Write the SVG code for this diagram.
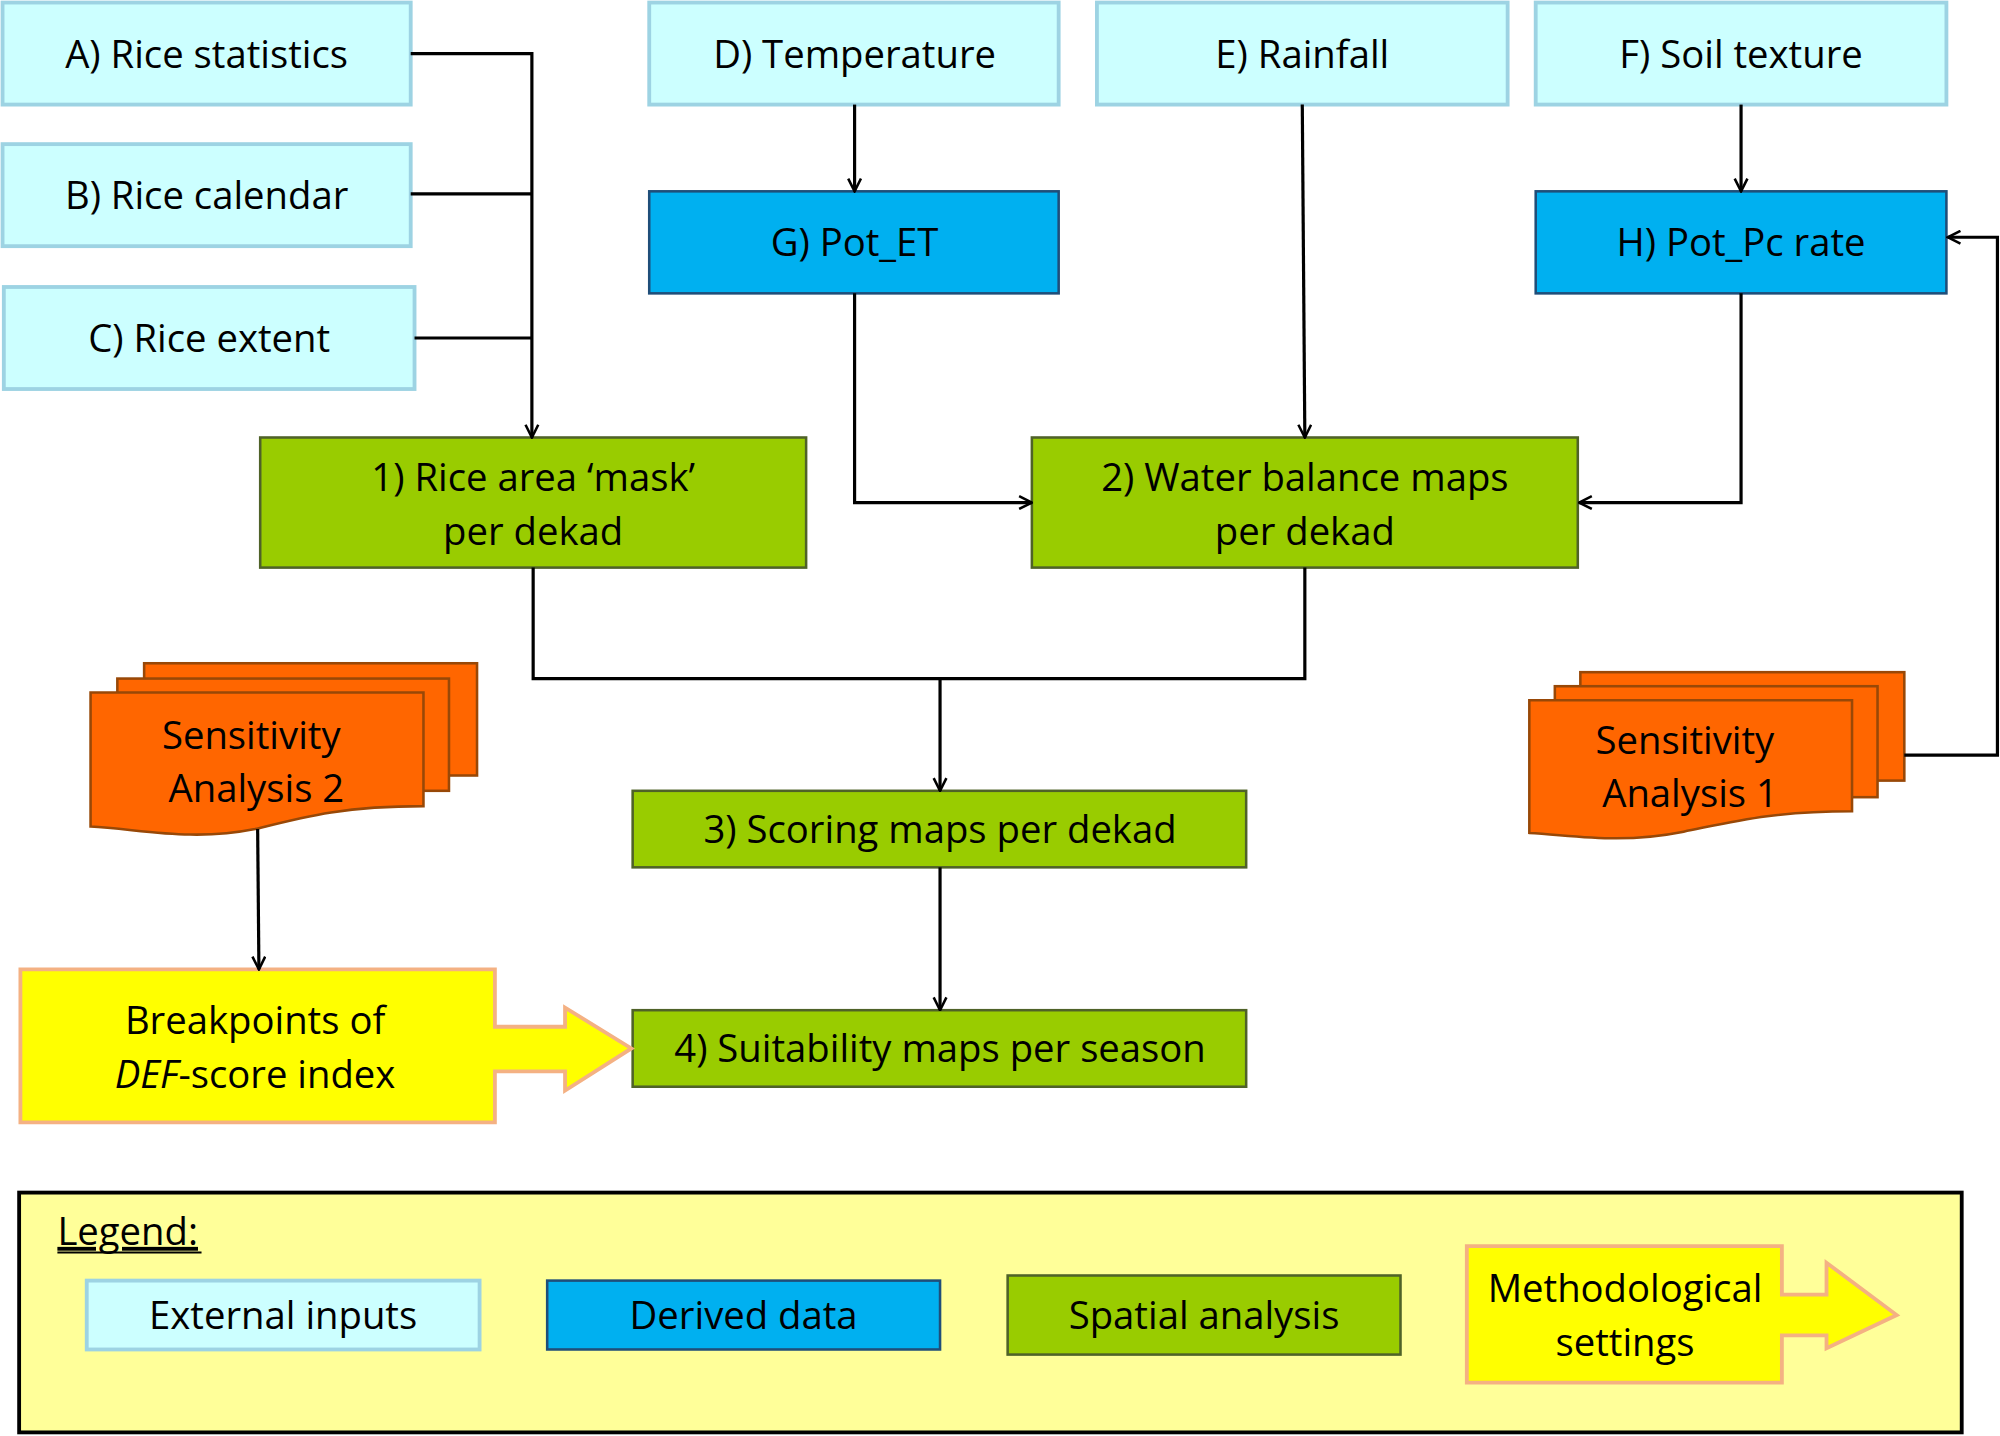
<svg xmlns="http://www.w3.org/2000/svg" width="2000" height="1436" viewBox="0 0 2000 1436">
<style>
.ext{fill:#ccffff;stroke:#9dd3e3;stroke-width:3}
.der{fill:#00b0f0;stroke:#1f4e79;stroke-width:2}
.spa{fill:#99cc00;stroke:#4f6228;stroke-width:2}
.met{fill:#ffff00;stroke:#f4b183;stroke-width:3}
.sen{fill:#ff6600;stroke:#984807;stroke-width:2}
.t{font-family:"Open Sans","Liberation Sans",sans-serif;font-size:30px;fill:#000;text-anchor:middle}
.c{fill:none;stroke:#000;stroke-width:2.5}
</style>
<defs>
<marker id="ar" viewBox="0 0 12 12" refX="11" refY="6" markerWidth="12" markerHeight="12" markerUnits="userSpaceOnUse" orient="auto">
<polyline points="1,1 11,6 1,11" fill="none" stroke="#000" stroke-width="2"/>
</marker>
<marker id="arb" viewBox="0 0 16 16" refX="15" refY="8" markerWidth="16" markerHeight="16" markerUnits="userSpaceOnUse" orient="auto">
<polyline points="1,1 15,8 1,15" fill="none" stroke="#000" stroke-width="2.5"/>
</marker>
</defs>
<rect width="2000" height="1436" fill="#fff"/>
<g transform="scale(1.2755)">
<g id="A"><rect class="ext" x="2" y="2" width="320" height="80"/><text class="t" x="162" y="53">A) Rice statistics</text></g>
<g id="B"><rect class="ext" x="2" y="113" width="320" height="80"/><text class="t" x="162" y="164">B) Rice calendar</text></g>
<g id="C"><rect class="ext" x="3" y="225" width="322" height="80"/><text class="t" x="164" y="276">C) Rice extent</text></g>
<g id="D"><rect class="ext" x="509" y="2" width="321" height="80"/><text class="t" x="670" y="53">D) Temperature</text></g>
<g id="E"><rect class="ext" x="860" y="2" width="322" height="80"/><text class="t" x="1021" y="53">E) Rainfall</text></g>
<g id="F"><rect class="ext" x="1204" y="2" width="322" height="80"/><text class="t" x="1365" y="53">F) Soil texture</text></g>
<g id="G"><rect class="der" x="509" y="150" width="321" height="80"/><text class="t" x="670" y="201">G) Pot_ET</text></g>
<g id="H"><rect class="der" x="1204" y="150" width="322" height="80"/><text class="t" x="1365" y="201">H) Pot_Pc rate</text></g>
<g id="n1"><rect class="spa" x="204" y="343" width="428" height="102"/><text class="t" x="418" y="385">1) Rice area ‘mask’</text><text class="t" x="418" y="427">per dekad</text></g>
<g id="n2"><rect class="spa" x="809" y="343" width="428" height="102"/><text class="t" x="1023" y="385">2) Water balance maps</text><text class="t" x="1023" y="427">per dekad</text></g>
<g id="n3"><rect class="spa" x="496" y="620" width="481" height="60"/><text class="t" x="737" y="661">3) Scoring maps per dekad</text></g>
<g id="n4"><rect class="spa" x="496" y="792" width="481" height="60"/><text class="t" x="737" y="833">4) Suitability maps per season</text></g>
<g id="BP"><polygon class="met" points="16,760 388,760 388,805 443,805 443,790 495,822 443,855 443,840 388,840 388,880 16,880"/><text class="t" x="200" y="811">Breakpoints of</text><text class="t" x="200" y="853"><tspan font-style="italic">DEF</tspan>-score  index</text></g>
<g id="SA2">
<rect class="sen" x="113" y="520" width="261" height="88"/>
<rect class="sen" x="92" y="532" width="260" height="88"/>
<path class="sen" d="M71,543 H332 V632 C270,632 240,640 200,650 C150,660 110,650 71,648 Z"/>
<text class="t" x="197" y="587">Sensitivity</text><text class="t" x="201" y="629">Analysis 2</text></g>
<g id="SA1">
<rect class="sen" x="1239" y="527" width="254" height="85"/>
<rect class="sen" x="1219" y="538" width="253" height="87"/>
<path class="sen" d="M1199,549 H1452 V636 C1390,636 1360,644 1320,652 C1270,662 1235,655 1199,653 Z"/>
<text class="t" x="1321" y="591">Sensitivity</text><text class="t" x="1325" y="633">Analysis 1</text></g>
<g id="connectors">
<polyline class="c" points="322,42 417,42 417,343" marker-end="url(#ar)"/>
<polyline class="c" points="322,152 417,152"/>
<polyline class="c" points="325,265 417,265"/>
<polyline class="c" points="670,82 670,150" marker-end="url(#ar)"/>
<polyline class="c" points="670,230 670,394 809,394" marker-end="url(#ar)"/>
<polyline class="c" points="1021,82 1023,343" marker-end="url(#ar)"/>
<polyline class="c" points="1365,82 1365,150" marker-end="url(#ar)"/>
<polyline class="c" points="1365,230 1365,394 1238,394" marker-end="url(#ar)"/>
<polyline class="c" points="1493,592 1566,592 1566,186 1527,186" marker-end="url(#ar)"/>
<polyline class="c" points="418,445 418,532 1023,532 1023,445"/>
<polyline class="c" points="737,532 737,620" marker-end="url(#ar)"/>
<polyline class="c" points="737,680 737,792" marker-end="url(#ar)"/>
<polyline class="c" points="202,650 203,760" marker-end="url(#ar)"/>
</g>
<g id="legend">
<rect x="15" y="935" width="1523" height="188" fill="#ffff99" stroke="#000" stroke-width="3"/>
<text class="t" x="45" y="976" text-anchor="start" style="text-anchor:start" text-decoration="underline">Legend:</text>
<line x1="45" y1="982" x2="158" y2="982" stroke="#000" stroke-width="1.5"/>
<rect class="ext" x="68" y="1004" width="308" height="54"/><text class="t" x="222" y="1042">External inputs</text>
<rect class="der" x="429" y="1004" width="308" height="54"/><text class="t" x="583" y="1042">Derived data</text>
<rect class="spa" x="790" y="1000" width="308" height="62"/><text class="t" x="944" y="1042">Spatial analysis</text>
<polygon class="met" points="1150,977 1397,977 1397,1015 1432,1015 1432,990 1487,1031 1432,1057 1432,1047 1397,1047 1397,1084 1150,1084"/>
<text class="t" x="1274" y="1021">Methodological</text><text class="t" x="1274" y="1063">settings</text>
</g>
</g>
</svg>
